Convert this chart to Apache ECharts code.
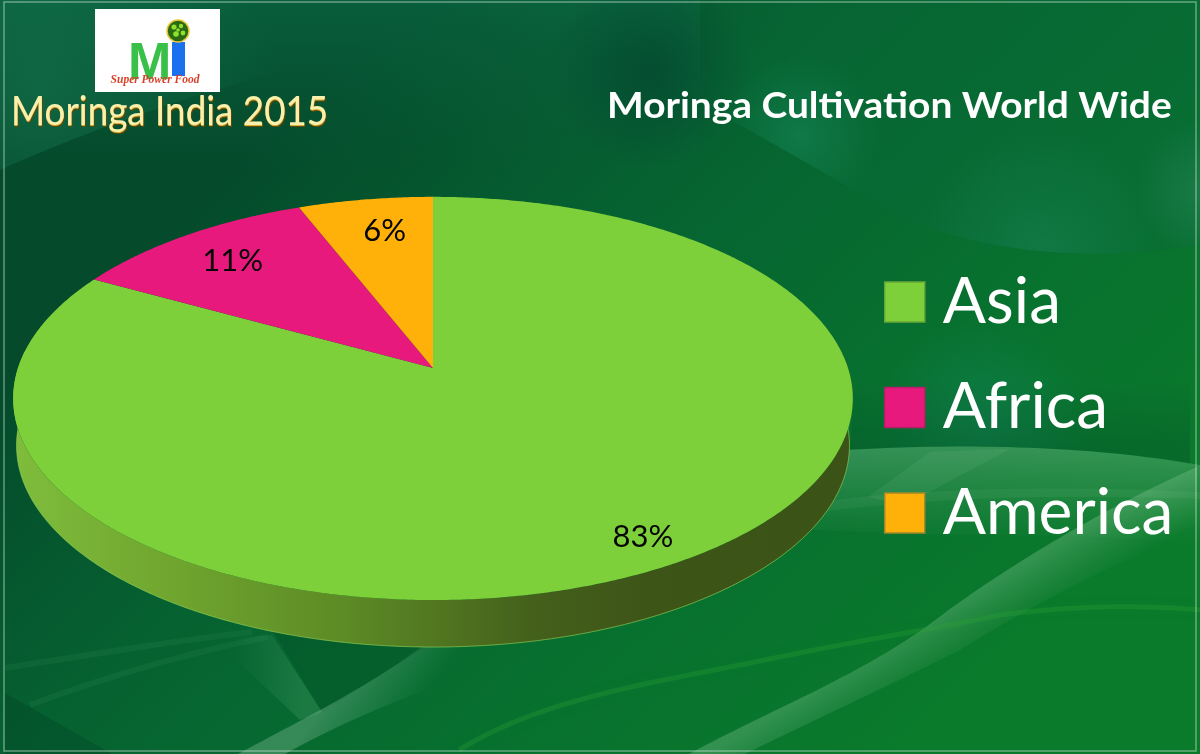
<!DOCTYPE html>
<html><head><meta charset="utf-8">
<style>html,body{margin:0;padding:0;background:#0b5a34}#c{width:1200px;height:754px}</style>
<script src="https://cdn.jsdelivr.net/npm/echarts@6/dist/echarts.min.js"></script>
</head><body><div id="c"></div>
<script>
const categories = ['Asia', 'Africa', 'America'];
const shares = [83, 11, 6];
const sliceColors = ['#7ed03a', '#e8197c', '#ffb10a'];
const legendBorders = ['#6aa636', '#b81e6a', '#a5862a'];
const chartTitle = 'Moringa Cultivation World Wide';
const brandTitle = 'Moringa India 2015';
const logoTagline = 'Super Power Food';

// pie plane seen in perspective: APEX is where the slices meet
const APEX = [433, 368], A = 415, B = 197, K = 0.151, DEPTH = 47, BOTTOM_SHRINK = 0.992;
const LABEL_R = [0.88, 0.8, 0.78];
const LABEL_SHIFT = [[0, 1], [1, 1], [6, -2]];
const total = shares.reduce((a, b) => a + b, 0);
function project(frac, r) {
  const t = frac * 2 * Math.PI, u = Math.sin(t) * r, v = Math.cos(t) * r, w = 1 + K * v;
  return [APEX[0] + A * u / w, APEX[1] - B * v / w];
}
const sideFill = {type:'linear',global:true,x:13,y:0,x2:853,y2:0,colorStops:[
  {offset:0,color:'#7fbd3c'},{offset:.2,color:'#6fa42e'},{offset:.4,color:'#5c8a25'},
  {offset:.62,color:'#44601b'},{offset:.75,color:'#3e5518'},{offset:1,color:'#3c5317'}]};

function renderSlice(params, api) {
  const i = params.seriesIndex, val = api.value(0);
  let before = 0;
  for (let j = 0; j < i; j++) before += shares[j];
  const f0 = before / total, f1 = (before + val) / total;
  const n = Math.max(8, Math.round((f1 - f0) * 720));
  const rim = [];
  for (let s = 0; s <= n; s++) rim.push(project(f0 + (f1 - f0) * s / n, 1));
  const topFront = rim.filter((p, idx) => Math.cos((f0 + (f1 - f0) * idx / n) * 2 * Math.PI) < 0.1);
  const low = topFront.map(p => [APEX[0] + (p[0] - APEX[0]) * BOTTOM_SHRINK, p[1] + DEPTH]);
  const lp = project((f0 + f1) / 2, LABEL_R[i]);
  const children = [];
  if (topFront.length > 1) {
    children.push({type:'polygon',shape:{points:topFront.concat(low.slice().reverse())},style:{fill:sideFill}});
    children.push({type:'polyline',shape:{points:low},style:{stroke:'rgba(150,215,90,.6)',lineWidth:1,fill:'none'}});
  }
  children.push({type:'polygon',shape:{points:[APEX].concat(rim)},style:{fill:sliceColors[i]}});
  children.push({type:'text',style:{text:Math.round(val / total * 100) + '%',x:lp[0]+LABEL_SHIFT[i][0],y:lp[1]+LABEL_SHIFT[i][1],align:'center',verticalAlign:'middle',
      fill:'#050505',font:'31px Lato, "Open Sans", sans-serif'}});
  return {type:'group',children};
}

function flatten(d) {
  const toks = d.match(/[MCLHVZ]|-?[\d.]+/g), pts = [];
  let i = 0, x = 0, y = 0, cmd = '';
  while (i < toks.length) {
    if (/[MCLHVZ]/.test(toks[i])) cmd = toks[i++];
    if (cmd === 'Z') continue;
    if (cmd === 'M' || cmd === 'L') { x = +toks[i++]; y = +toks[i++]; pts.push([x, y]); }
    else if (cmd === 'H') { x = +toks[i++]; pts.push([x, y]); }
    else if (cmd === 'V') { y = +toks[i++]; pts.push([x, y]); }
    else if (cmd === 'C') {
      const a=+toks[i++],b=+toks[i++],c=+toks[i++],e=+toks[i++],f=+toks[i++],g=+toks[i++];
      for (let s = 1; s <= 40; s++) { const t=s/40,m=1-t;
        pts.push([m*m*m*x+3*m*m*t*a+3*m*t*t*c+t*t*t*f, m*m*m*y+3*m*m*t*b+3*m*t*t*e+t*t*t*g]); }
      x = f; y = g;
    }
  }
  return pts;
}
const wave = (d, fill) => ({type:'polygon',silent:true,z:0,shape:{points:flatten(d)},style:{fill}});
const glowLine = (d, color, w, blur) => ({type:'polyline',silent:true,z:0,shape:{points:flatten(d)},
  style:{fill:'none',stroke:color,lineWidth:w,shadowBlur:blur,shadowColor:color}});
const lin = (x,y,x2,y2,...c) => ({type:'linear',global:true,x,y,x2,y2,colorStops:c.map((col,i)=>({offset:i/(c.length-1),color:col}))});
const rad = (x,y,r,c0,c1) => ({type:'radial',global:true,x,y,r,colorStops:[{offset:0,color:c0},{offset:1,color:c1}]});

const UPPER = 'M570 35C680 90 785 150 880 205C960 250 1080 265 1200 245V0H700C660 20 620 30 570 35Z';
const background = [
  {type:'rect',silent:true,z:0,shape:{x:0,y:0,width:1200,height:754},
    style:{fill:lin(300,100,900,754,'#044a2b','#066231','#07702f','#0a7a2b')}},
  // top left lighter veil
  {type:'rect',silent:true,z:0,shape:{x:0,y:0,width:700,height:170},style:{fill:lin(0,0,0,170,'rgba(12,110,70,.55)','rgba(10,100,65,0)')}},
  wave('M0 0H340V55C240 80 110 120 0 170Z', rad(40,90,240,'rgba(30,135,95,.38)','rgba(30,135,95,0)')),
  // top right wave with bright lip above the curve
  wave(UPPER, lin(570,0,800,0,'rgba(8,105,55,0)','rgba(8,105,55,.42)')),
  wave(UPPER, rad(800,135,80,'rgba(25,145,100,.42)','rgba(25,145,100,0)')),
  wave(UPPER, rad(1040,250,120,'rgba(30,135,95,.42)','rgba(30,135,95,0)')),
  wave(UPPER, rad(1205,190,70,'rgba(60,145,115,.35)','rgba(60,145,115,0)')),
  {type:'circle',silent:true,z:0,shape:{cx:650,cy:70,r:100},style:{fill:rad(650,70,100,'rgba(2,60,45,.55)','rgba(2,60,45,0)')}},
  // teal glow behind Africa
  wave('M870 300H1190V462C1080 444 950 444 850 450Z', rad(985,425,110,'rgba(20,135,95,.5)','rgba(20,135,95,0)')),
  wave('M860 300H1190V464C1080 444 950 444 850 450Z', lin(0,380,0,450,'rgba(3,70,40,0)','rgba(3,70,40,.3)')),
  // pale band right of the pie
  wave('M845 450C950 444 1080 444 1200 465V545C1100 530 950 540 790 528C815 505 835 475 845 450Z', lin(0,448,0,545,'rgba(170,225,190,.28)','rgba(140,210,160,.0)')),
  wave('M930 452L1010 449L905 505L868 497Z','rgba(200,235,210,.07)'),
  wave('M780 508C880 490 1020 484 1200 492V499C1020 493 880 500 770 520Z','rgba(200,240,210,.06)'),
  // long diagonal streak
  wave('M1197 467C1100 510 1000 570 926 627C850 680 770 710 689 754H745C810 722 880 690 960 650C1040 600 1120 560 1197 530Z',
    lin(943,612,972,660,'rgba(175,225,185,.25)','rgba(150,215,165,0)')),
  // dark wedge and pale streak under the pie
  wave('M272 630L322 712L428 645Z','rgba(0,60,30,.22)'),
  wave('M430 640C380 680 320 710 238 754H285C345 720 420 690 560 640Z', lin(335,690,395,735,'rgba(175,220,190,.28)','rgba(160,215,180,0)')),
  wave('M272 635L322 712L300 720L215 640Z', lin(300,680,235,680,'rgba(150,215,170,.14)','rgba(150,215,170,0)')),
  wave('M5 693L112 754H5Z','rgba(0,50,30,.25)'),
  // soft glowing arcs
  glowLine('M459 750C540 700 640 685 765 660C860 640 940 628 1000 615C1080 605 1140 605 1200 610','rgba(45,165,55,.28)',5,12),
  glowLine('M5 668C90 655 180 640 252 632','rgba(130,210,150,.07)',6,8),
  glowLine('M30 705C110 675 200 650 268 637','rgba(130,210,150,.07)',6,8),
  {type:'rect',silent:true,z:1,shape:{x:4,y:2,width:1192,height:749},style:{fill:'none',stroke:'rgba(200,225,210,.5)',lineWidth:1.5}}
];

const titleFont = 'bold 36px Lato, sans-serif';
const brandFont = '40px Lato, sans-serif';
const brandLayer = (dx, dy, fill, extra) => ({type:'text',z:6,x:11+dx,y:112+dy,scaleX:.92,
  style:Object.assign({text:brandTitle,x:0,y:0,verticalAlign:'middle',font:brandFont,fill},extra||{})});
const leaf = (cx, cy, r) => ({type:'circle',z:5,shape:{cx,cy,r},style:{fill:'#8ee02c'}});
const brand = [
  {type:'rect',z:3,shape:{x:95,y:9,width:125,height:83},style:{fill:'#ffffff'}},
  {type:'text',z:4,style:{text:'M',x:128,y:39,font:'900 52px "Liberation Sans", Arial, sans-serif',fill:'#38c048'}},
  {type:'rect',z:4,shape:{x:172,y:42,width:13,height:34},style:{fill:'#1a70ee'}},
  {type:'circle',z:5,shape:{cx:178,cy:31,r:11},style:{fill:'#2a6a12',stroke:'#e8c838',lineWidth:1.5}},
  leaf(174,27,2.6),leaf(181,26,2.2),leaf(176,34,2.8),leaf(183,33,2.4),leaf(178,30,1.8),
  {type:'text',z:6,style:{text:logoTagline,x:155,y:80,align:'center',verticalAlign:'middle',font:'italic bold 11.5px "Liberation Serif", serif',fill:'#d8402a'}},
  brandLayer(1,2,'#5d4a0e',{shadowBlur:3,shadowColor:'rgba(0,0,0,.6)'}),
  brandLayer(0,1,'#d9ac35'),
  brandLayer(0,0,'#f8f0ac'),
  {type:'text',z:6,x:607,y:106,scaleX:1.08,style:{text:chartTitle,x:0,y:0,verticalAlign:'middle',font:titleFont,fill:'#ffffff'}}
];

const chart = echarts.init(document.getElementById('c'), null, {renderer:'canvas'});
chart.setOption({
  animation:false,
  backgroundColor:'#0b5a34',
  graphic:{elements:background.concat(brand)},
  legend:{show:true,orient:'vertical',left:884,top:270,padding:0,itemWidth:40,itemHeight:40,itemGap:41.5,selectedMode:false,icon:'rect',
    data:categories.map((name,i)=>({name,itemStyle:{borderColor:legendBorders[i],borderWidth:1.5}})),
    textStyle:{color:'#fff',fontFamily:'Lato, sans-serif',fontSize:64,padding:[0,0,0,13]}},
  series:categories.map((name, i) => ({
    type:'custom',name:name,coordinateSystem:'none',z:2+i,
    itemStyle:{color:sliceColors[i]},
    renderItem:renderSlice,silent:true,
    data:[{name:name,value:[shares[i]]}]
  }))
});
</script></body></html>
